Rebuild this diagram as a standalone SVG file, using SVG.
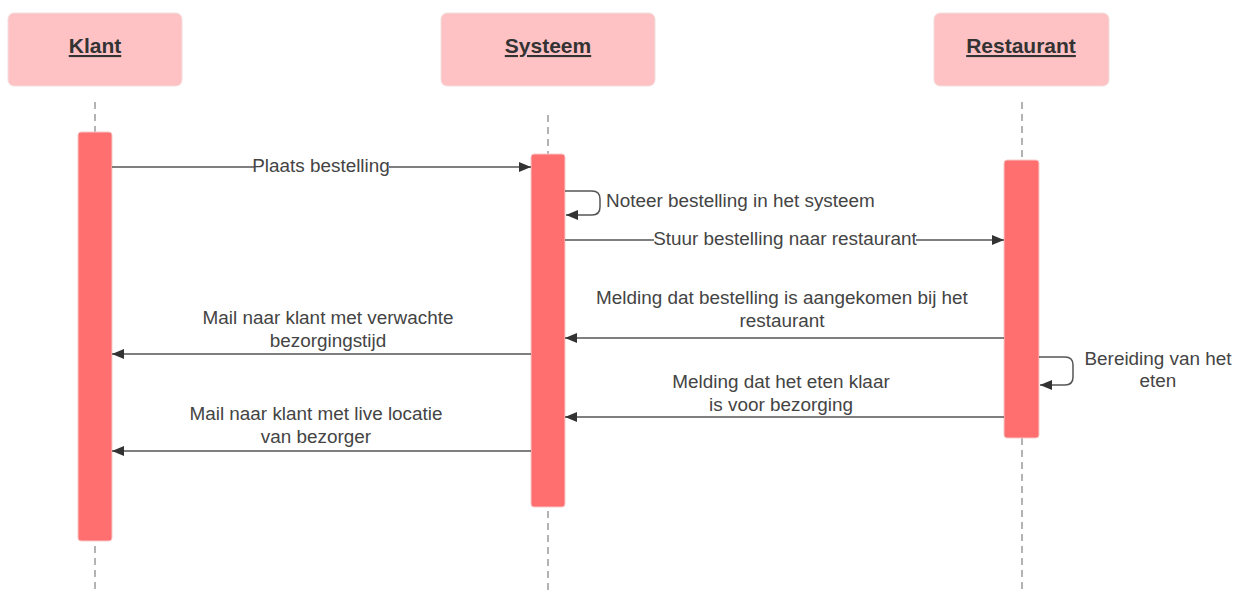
<svg xmlns="http://www.w3.org/2000/svg" width="1243" height="590" viewBox="0 0 1243 590">
  <style>
    .box { fill: #ffc2c4; stroke: #f3dede; stroke-width: 1; }
    .act { fill: #ff6f6f; stroke: #f6c9c9; stroke-width: 1; }
    .title { font-family: "Liberation Sans", Arial, sans-serif; font-size: 21px; font-weight: bold; fill: #333; text-anchor: middle; text-decoration: underline; }
    .lbl { font-family: "Liberation Sans", Arial, sans-serif; font-size: 18.9px; fill: #444; text-anchor: middle; }
    .life { stroke: #9a9a9a; stroke-width: 1.5; stroke-dasharray: 7 5; fill: none; }
    .msg { stroke: #555; stroke-width: 1.5; fill: none; marker-end: url(#arr); }
    .bg { fill: #fff; }
  </style>
  <defs>
    <marker id="arr" viewBox="0 0 12 10" refX="12" refY="5" markerWidth="12" markerHeight="10" markerUnits="userSpaceOnUse" orient="auto">
      <path d="M0,0 L12,5 L0,10 Z" fill="#333"/>
    </marker>
  </defs>
  <rect width="1243" height="590" fill="#fff"/>

  <g id="lifelines">
    <line class="life" x1="95" y1="102" x2="95" y2="590"/>
    <line class="life" x1="548" y1="115" x2="548" y2="590"/>
    <line class="life" x1="1022" y1="102" x2="1022" y2="590"/>
  </g>

  <g id="klant">
    <rect class="box" x="8" y="13" width="174" height="73" rx="6"/>
    <text class="title" x="95" y="53">Klant</text>
    <rect class="act" x="78" y="132" width="34" height="409" rx="3"/>
  </g>
  <g id="systeem">
    <rect class="box" x="441" y="13" width="214" height="73" rx="6"/>
    <text class="title" x="548" y="53">Systeem</text>
    <rect class="act" x="531" y="154" width="34" height="353" rx="3"/>
  </g>
  <g id="restaurant">
    <rect class="box" x="934" y="13" width="175" height="73" rx="6"/>
    <text class="title" x="1021" y="53">Restaurant</text>
    <rect class="act" x="1004" y="160" width="35" height="278" rx="3"/>
  </g>

  <g id="connectors">
    <path class="msg" d="M112,167 H531"/>
    <rect class="bg" x="254" y="155" width="135" height="22"/>
    <text class="lbl" x="321" y="172">Plaats bestelling</text>

    <path class="msg" d="M565,191 H592 Q600,191 600,199 V207 Q600,215 592,215 H566"/>
    <text class="lbl" x="606" y="207" style="text-anchor:start">Noteer bestelling in het systeem</text>

    <path class="msg" d="M565,240 H1004"/>
    <rect class="bg" x="654" y="228" width="262" height="22"/>
    <text class="lbl" x="785" y="245">Stuur bestelling naar restaurant</text>

    <path class="msg" d="M1004,338 H565"/>
    <text class="lbl" x="782" y="304">Melding dat bestelling is aangekomen bij het</text>
    <text class="lbl" x="782" y="327">restaurant</text>

    <path class="msg" d="M531,354 H112"/>
    <text class="lbl" x="328" y="324">Mail naar klant met verwachte</text>
    <text class="lbl" x="328" y="347">bezorgingstijd</text>

    <path class="msg" d="M1039,357 H1065 Q1073,357 1073,365 V377 Q1073,385 1065,385 H1040"/>
    <text class="lbl" x="1158" y="365">Bereiding van het</text>
    <text class="lbl" x="1158" y="387">eten</text>

    <path class="msg" d="M1004,417 H565"/>
    <text class="lbl" x="781" y="388">Melding dat het eten klaar</text>
    <text class="lbl" x="781" y="411">is voor bezorging</text>

    <path class="msg" d="M531,451 H112"/>
    <text class="lbl" x="316" y="420">Mail naar klant met live locatie</text>
    <text class="lbl" x="316" y="443">van bezorger</text>
  </g>
</svg>
